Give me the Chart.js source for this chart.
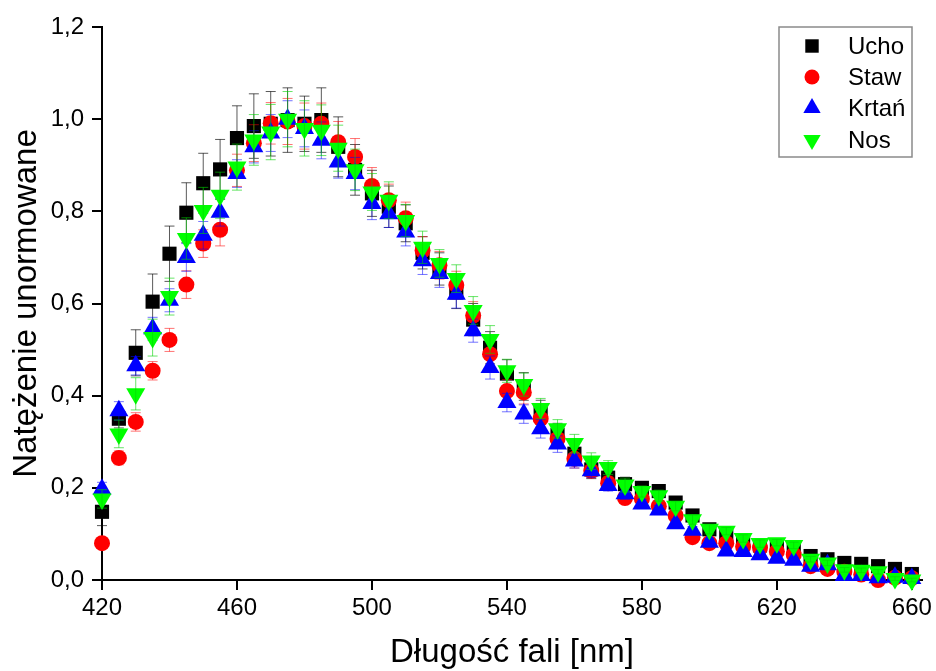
<!DOCTYPE html>
<html>
<head>
<meta charset="utf-8">
<script src="https://cdn.jsdelivr.net/npm/chart.js@4.4.1/dist/chart.umd.min.js"></script>
<style>
    html, body { margin: 0; padding: 0; background: #fff; }
    canvas { display: block; }
</style>
</head>
<body>
<canvas id="chart" width="936" height="671"></canvas>
<script>
// dlugosc fali [nm]
const wavelengths = [420,425,430,435,440,445,450,455,460,465,470,475,480,485,490,495,500,505,510,515,520,525,530,535,540,545,550,555,560,565,570,575,580,585,590,595,600,605,610,615,620,625,630,635,640,645,650,655,660];
const xTicks = [420,460,500,540,580,620,660];
const yTicks = [0,0.2,0.4,0.6,0.8,1.0,1.2];
const seriesNames = ["Ucho","Staw","Krtań","Nos"];

const ucho = [0.148,0.35,0.493,0.604,0.708,0.797,0.861,0.891,0.959,0.985,0.99,0.998,0.99,0.998,0.94,0.89,0.839,0.81,0.774,0.71,0.675,0.624,0.565,0.504,0.448,0.42,0.365,0.315,0.274,0.24,0.222,0.208,0.2,0.193,0.168,0.14,0.11,0.095,0.085,0.075,0.075,0.065,0.052,0.045,0.037,0.035,0.03,0.024,0.013];
const staw = [0.08,0.265,0.343,0.454,0.521,0.641,0.73,0.76,0.889,0.948,0.991,0.995,0.985,0.99,0.95,0.918,0.855,0.824,0.785,0.715,0.683,0.64,0.574,0.49,0.41,0.407,0.35,0.306,0.263,0.237,0.21,0.178,0.176,0.16,0.14,0.093,0.08,0.08,0.072,0.07,0.062,0.055,0.03,0.024,0.018,0.012,0.0,0.005,0.004];
const krtan = [0.197,0.367,0.465,0.545,0.607,0.70,0.748,0.798,0.882,0.94,0.97,1.0,0.98,0.954,0.907,0.882,0.817,0.795,0.755,0.693,0.665,0.62,0.541,0.461,0.385,0.36,0.328,0.295,0.258,0.237,0.205,0.187,0.165,0.152,0.122,0.108,0.082,0.063,0.062,0.055,0.047,0.043,0.03,0.033,0.01,0.01,0.005,0.006,0.003];
const nos = [0.176,0.317,0.404,0.526,0.615,0.741,0.802,0.835,0.896,0.955,0.972,1.0,0.98,0.976,0.937,0.89,0.842,0.824,0.78,0.722,0.687,0.654,0.585,0.522,0.454,0.424,0.372,0.328,0.296,0.258,0.244,0.206,0.192,0.183,0.16,0.131,0.11,0.106,0.09,0.079,0.081,0.075,0.045,0.037,0.022,0.021,0.018,0.003,0.0];

// bledy (polowa slupka)
const errUcho = [0.03,0.02,0.05,0.06,0.06,0.065,0.065,0.065,0.07,0.07,0.07,0.07,0.06,0.07,0.065,0.055,0.05,0.045,0.04,0.035,0.035,0.035,0.035,0.035,0.03,0.03,0.025,0.025,0.02,0.02,0.015,0.015,0.012,0.012,0.01,0.01,0.01,0.008,0.008,0.008,0.008,0.006,0.006,0.006,0.005,0.005,0.005,0.004,0.004];
const errStaw = [0.01,0.015,0.02,0.02,0.025,0.03,0.03,0.035,0.035,0.04,0.045,0.05,0.05,0.045,0.045,0.04,0.04,0.035,0.035,0.03,0.03,0.03,0.03,0.03,0.025,0.025,0.02,0.02,0.02,0.015,0.015,0.012,0.012,0.01,0.01,0.01,0.008,0.008,0.008,0.007,0.007,0.006,0.006,0.005,0.005,0.005,0.004,0.004,0.004];
const errKrtan = [0.015,0.02,0.02,0.025,0.025,0.03,0.03,0.03,0.03,0.035,0.04,0.04,0.04,0.04,0.035,0.035,0.035,0.03,0.03,0.03,0.03,0.03,0.025,0.025,0.02,0.02,0.02,0.018,0.015,0.015,0.012,0.012,0.01,0.01,0.01,0.008,0.008,0.008,0.007,0.007,0.006,0.006,0.005,0.005,0.005,0.004,0.004,0.004,0.004];
const errNos = [0.02,0.03,0.035,0.04,0.04,0.045,0.05,0.05,0.05,0.055,0.06,0.06,0.06,0.055,0.05,0.045,0.04,0.04,0.035,0.035,0.03,0.03,0.03,0.03,0.025,0.025,0.022,0.02,0.02,0.018,0.015,0.015,0.012,0.012,0.01,0.01,0.01,0.008,0.008,0.008,0.007,0.007,0.006,0.006,0.005,0.005,0.005,0.004,0.004];

const FONT = "'Liberation Sans', Arial, Helvetica, sans-serif";

function toPoints(vals){
    let pts = [];
    for(let i = 0; i < wavelengths.length; i++){
        pts.push({x: wavelengths[i], y: vals[i]});
    }
    return pts;
}

function makeSet(label, vals, errs, color, errColor, style, radius, rot, order){
    return {
        label: label,
        data: toPoints(vals),
        errors: errs,
        errColor: errColor,
        showLine: false,
        clip: false,
        pointStyle: style,
        pointRadius: radius,
        pointRotation: rot,
        pointBackgroundColor: color,
        pointBorderColor: color,
        pointBorderWidth: 0,
        backgroundColor: color,
        borderColor: color,
        order: order
    }
}

const datasets = [
    makeSet(seriesNames[0], ucho, errUcho, "#000000", "rgba(0,0,0,0.65)", "rect", 10, 0, 4),
    makeSet(seriesNames[1], staw, errStaw, "#ff0000", "rgba(255,0,0,0.55)", "circle", 8, 0, 3),
    makeSet(seriesNames[2], krtan, errKrtan, "#0000ff", "rgba(0,0,255,0.55)", "triangle", 11, 0, 2),
    makeSet(seriesNames[3], nos, errNos, "#00ff00", "rgba(0,210,0,0.6)", "triangle", 11, 180, 1)
];

// slupki bledow rysowane przez skale wykresu
const errorBars = {
    id: "errorBars",
    afterDatasetDraw(chart, args){
        const ds = chart.data.datasets[args.index];
        const yScale = chart.scales.y;
        const ctx = chart.ctx;
        ctx.save();
        ctx.strokeStyle = ds.errColor;
        ctx.lineWidth = 1;
        args.meta.data.forEach((pt, i) => {
            const v = ds.data[i].y;
            const e = ds.errors[i];
            const top = yScale.getPixelForValue(v + e);
            const bot = yScale.getPixelForValue(v - e);
            ctx.beginPath();
            ctx.moveTo(pt.x, top);
            ctx.lineTo(pt.x, bot);
            ctx.moveTo(pt.x - 5, top);
            ctx.lineTo(pt.x + 5, top);
            ctx.moveTo(pt.x - 5, bot);
            ctx.lineTo(pt.x + 5, bot);
            ctx.stroke();
        });
        ctx.restore();
    }
}

function drawMarker(ctx, style, rot, x, y, r){
    ctx.beginPath();
    if(style === "rect"){
        const s = r * Math.SQRT1_2;
        ctx.rect(x - s, y - s, 2*s, 2*s);
    } else if(style === "circle"){
        ctx.arc(x, y, r, 0, Math.PI*2);
    } else {
        let a = rot * Math.PI / 180;
        for(let k = 0; k < 3; k++){
            const px = x + Math.sin(a) * r;
            const py = y - Math.cos(a) * r;
            if(k === 0) ctx.moveTo(px, py); else ctx.lineTo(px, py);
            a += 2*Math.PI/3;
        }
        ctx.closePath();
    }
    ctx.fill();
}

// legenda w ramce
const boxLegend = {
    id: "boxLegend",
    afterDraw(chart){
        const ctx = chart.ctx;
        ctx.save();
        ctx.strokeStyle = "#8a8a8a";
        ctx.lineWidth = 1.5;
        ctx.strokeRect(779, 27, 133, 130);
        ctx.font = "24px " + FONT;
        ctx.textBaseline = "middle";
        ctx.textAlign = "left";
        const rowsY = [46, 77, 108, 140];
        chart.data.datasets.forEach((ds, i) => {
            ctx.fillStyle = ds.pointBackgroundColor;
            const r = ds.pointStyle === "rect" ? 9.5 : (ds.pointStyle === "circle" ? 7.5 : 10);
            drawMarker(ctx, ds.pointStyle, ds.pointRotation, 812, rowsY[i], r);
            ctx.fillStyle = "#000";
            ctx.fillText(ds.label, 848, rowsY[i] + 1);
        });
        ctx.restore();
    }
}

let ctx = document.querySelector("#chart");
let chart = new Chart(ctx, {
    type: "scatter",
    data: { datasets: datasets },
    options: {
        responsive: false,
        animation: false,
        events: [],
        layout: { padding: { top: 27, right: 11, left: 0, bottom: 0 } },
        plugins: {
            legend: { display: false },
            tooltip: { enabled: false }
        },
        scales: {
            x: {
                type: "linear",
                min: 420,
                max: 663,
                afterBuildTicks: (scale) => { scale.ticks = xTicks.map(v => ({value: v})); },
                afterFit: (scale) => { scale.height = 91; },
                border: { display: true, color: "#000", width: 2 },
                grid: { drawOnChartArea: false, drawTicks: true, tickLength: 10, color: "#000", lineWidth: 2 },
                ticks: { color: "#000", font: { family: FONT, size: 24 }, padding: 4, maxRotation: 0 },
                title: {
                    display: true,
                    text: "Długość fali [nm]",
                    color: "#000",
                    font: { family: FONT, size: 33, lineHeight: 1.0 },
                    padding: { top: 0, bottom: 2 }
                }
            },
            y: {
                min: 0,
                max: 1.2,
                afterBuildTicks: (scale) => { scale.ticks = yTicks.map(v => ({value: v})); },
                afterFit: (scale) => { scale.width = 102; },
                border: { display: true, color: "#000", width: 2 },
                grid: { drawOnChartArea: false, drawTicks: true, tickLength: 10, color: "#000", lineWidth: 2 },
                ticks: {
                    color: "#000",
                    font: { family: FONT, size: 24 },
                    padding: 8,
                    callback: (v) => v.toFixed(1).replace(".", ",")
                },
                title: {
                    display: true,
                    text: "Natężenie unormowane",
                    color: "#000",
                    font: { family: FONT, size: 33, lineHeight: 1.0 },
                    padding: { top: 10, bottom: 0 }
                }
            }
        }
    },
    plugins: [errorBars, boxLegend]
});
</script>
</body>
</html>
